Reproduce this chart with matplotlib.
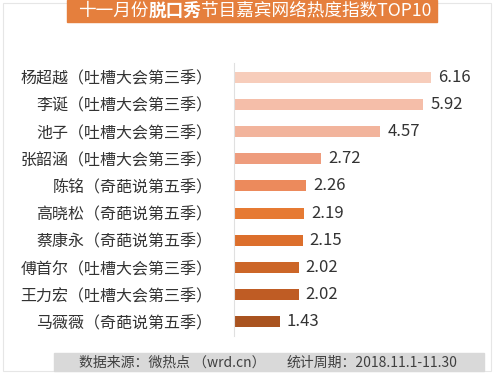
import matplotlib.pyplot as plt
from matplotlib.patches import Rectangle

plt.rcParams['font.family'] = ['Noto Sans CJK SC', 'DejaVu Sans']

names = ['杨超越', '李诞', '池子', '张韶涵', '陈铭', '高晓松', '蔡康永', '傅首尔', '王力宏', '马薇薇']
shows = ['吐槽大会第三季', '吐槽大会第三季', '吐槽大会第三季', '吐槽大会第三季', '奇葩说第五季',
         '奇葩说第五季', '奇葩说第五季', '吐槽大会第三季', '吐槽大会第三季', '奇葩说第五季']
values = [6.16, 5.92, 4.57, 2.72, 2.26, 2.19, 2.15, 2.02, 2.02, 1.43]
bar_colors = ['#F7CDBB', '#F5BEA9', '#F2B49C', '#EE9C7D', '#EC8A5C',
              '#E67A33', '#DC6F2C', '#CC6628', '#BF5C24', '#A9531F']
labels = [f'{n}（{s}）' for n, s in zip(names, shows)]

title_parts = [('十一月份', 'normal'), ('脱口秀', 'bold'), ('节目嘉宾网络热度指数TOP10', 'normal')]
source_text = '数据来源：微热点 （wrd.cn）'
period_text = '统计周期：2018.11.1-11.30'

W, H = 499, 374
fig = plt.figure(figsize=(W / 100, H / 100), dpi=100)


def fx(px):
    return px / W


def fy(py):
    return 1 - py / H


# thin frame round the picture
fig.patches.append(Rectangle((fx(3), fy(371)), fx(491) - fx(3), (371 - 3) / H,
                             transform=fig.transFigure, fill=False,
                             edgecolor='#E6E6E6', lw=0.8))

# bars
ax = fig.add_axes([fx(234), fy(335.5), fx(490) - fx(234), (335.5 - 63.5) / H])
ypos = list(range(len(values)))
ax.barh(ypos, values, height=0.4, color=bar_colors)
ax.set_ylim(len(values) - 0.5, -0.5)
ax.set_xlim(0, 8.0)
ax.set_yticks(ypos, labels, fontsize=11.5, color='#333333')
ax.tick_params(axis='y', length=0, pad=15.5)
ax.set_xticks([])
for s in ['top', 'right', 'bottom']:
    ax.spines[s].set_visible(False)
ax.spines['left'].set_color('#E0E0E0')
ax.spines['left'].set_linewidth(0.8)

for i, v in enumerate(values):
    ax.annotate(f'{v:.2f}', (v, i), xytext=(5, 0), textcoords='offset points',
                va='center', ha='left', fontsize=12, color='#333333')

# title banner
fig.patches.append(Rectangle((fx(67), fy(22)), fx(437) - fx(67), 22 / H,
                             transform=fig.transFigure, color='#E57F3D'))
renderer = fig.canvas.get_renderer()
x = fx(78)
for txt, weight in title_parts:
    t = fig.text(x, fy(11), txt, color='white', fontsize=12.7, fontweight=weight,
                 va='center', ha='left')
    bb = t.get_window_extent(renderer)
    x = bb.x1 / W

# footer
fig.patches.append(Rectangle((fx(54), fy(371)), fx(484) - fx(54), (371 - 353) / H,
                             transform=fig.transFigure, color='#D9D9D9'))
fig.text(fx(79), fy(362.5), source_text, fontsize=10, color='#404040', va='center', ha='left')
fig.text(fx(287), fy(362.5), period_text, fontsize=10, color='#404040', va='center', ha='left')

fig.savefig('out.png', dpi=100)
